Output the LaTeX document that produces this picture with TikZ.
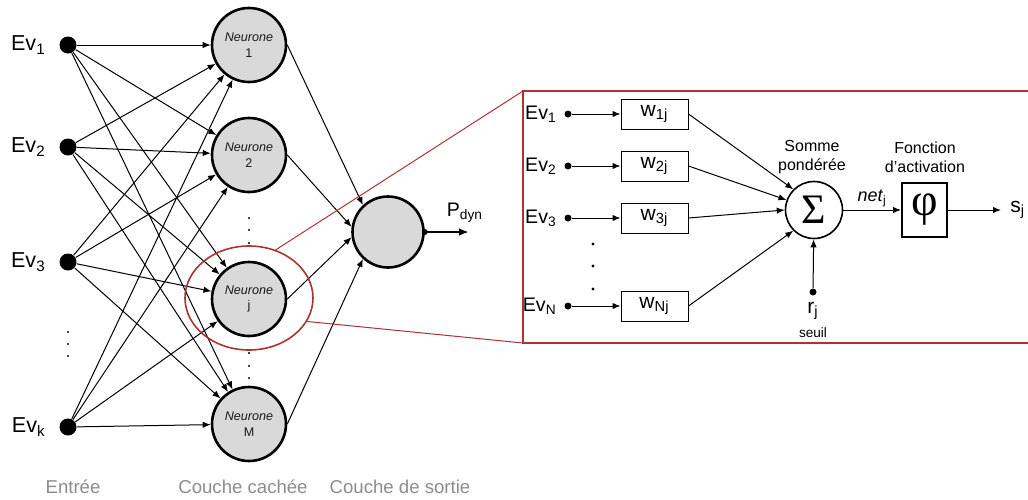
\documentclass[tikz,border=0pt]{standalone}
\usepackage{fontspec}
\setmainfont{Liberation Sans}
\newfontfamily\grfont{Liberation Serif}
\usetikzlibrary{positioning,arrows.meta,shapes.geometric}
\definecolor{zoomred}{RGB}{170,52,52}
\definecolor{cellgray}{RGB}{217,217,217}
\definecolor{capgray}{RGB}{140,140,140}
\newcommand\Ev[1]{Ev\textsubscript{#1}}
\newcommand\fs[1]{\fontsize{#1}{#1}\selectfont}

\begin{document}
\begin{tikzpicture}[x=0.5pt,y=-0.5pt,every node/.style={inner sep=1.5pt},
    link/.style={line width=0.5pt,-{Latex[length=4pt,width=3.2pt]}},
    inp/.style={circle,fill,inner sep=0,minimum size=8.5pt},
    neuron/.style={circle,draw,line width=1.3pt,fill=cellgray,minimum size=37pt,
      inner sep=0,align=center,text=black!90,font=\fontsize{6.3}{7.8}\selectfont},
    wbox/.style={draw,line width=0.5pt,minimum width=33.5pt,minimum height=15pt,
      inner sep=0,font=\fs{10.5}},
    dot/.style={circle,fill,inner sep=0,minimum size=3.5pt}]
  \useasboundingbox(0,0)rectangle(1028,499);
  % reseau
  \foreach \n/\y in{1/45,2/147,3/262,k/427}{
    \node[inp](i\n)at(68,\y){};
    \node[left=5pt of i\n,font=\fs{10.8}]{\Ev{\n}};}
  \foreach \n/\y in{1/45,2/155,j/299,M/424}
    \node[neuron](h\n)at(249,\y){\textit{Neurone}\\\n};
  \node[neuron,minimum size=35.5pt](out)at(388,232){};
  \foreach \a in{1,2,3,k}
    \foreach \b in{1,2,j,M}
      \draw[link](i\a)--(h\b);
  \draw[link](h1.east)--(out.133);
  \draw[link](h2.east)--(out.172);
  \draw[link](hj.east)--(out.188);
  \draw[link](hM.east)--(out.227);
  \fill(out.east)circle(1.5pt);
  \draw[line width=1pt,-{Latex[length=5pt,width=4pt]}](out.east)--++(44,0);
  \node[font=\fs{9.8}](pdyn)at(465,213){P\textsubscript{dyn}};
  \foreach \x/\y in{68/332,68/344,68/356,249/218,249/230,249/243,249/353,249/366,249/378}
    \fill(\x,\y)circle(0.6pt);
  \foreach \x/\t in{73/Entrée,243/Couche cachée,400/Couche de sortie}
    \node[text=capgray,font=\fs{9.3}]at(\x,487){\t};
  % zoom sur le neurone j
  \node[ellipse,draw=zoomred,line width=0.8pt,minimum width=64pt,minimum height=52pt](zoom)at(249,298){};
  \coordinate(c1)at(523,91);
  \coordinate(c2)at(523,343);
  \draw[zoomred,line width=0.5pt](zoom.61)--(c1)(zoom.-22)--(c2);
  \draw[zoomred,line width=0.6pt](1030,91)--(c1)--(c2)--(1030,343);
  \foreach \n/\y in{1/114,2/166,3/218,N/306}{
    \node[dot](e\n)at(568,\y){};
    \node[left=2pt of e\n,font=\fs{9.8}]{\Ev{\n}};
    \node[wbox](w\n)at(654.5,\y){w\textsubscript{\n j}};
    \draw[link](e\n)--(w\n);}
  \foreach \y in{244,266,289}
    \fill(593,\y)circle(0.8pt);
  \node[circle,draw,line width=0.8pt,minimum size=28.5pt,inner sep=0](sum)at(814,210){\grfont\fs{21}Σ};
  \draw[link](w1.east)--(sum.135);
  \draw[link](w2.east)--(sum.160);
  \draw[link](w3.east)--(sum.180);
  \draw[link](wN.east)--(sum.225);
  \node[align=center,font=\fontsize{8}{9.5}\selectfont](somme)at(812,157){Somme\\pondérée};
  \node[draw,line width=1pt,minimum width=22.5pt,minimum height=27pt,inner sep=0](phi)at(924.5,210){\grfont\fs{23}φ};
  \node[align=center,font=\fontsize{8}{9.5}\selectfont](fonct)at(925,157){Fonction\\d’activation};
  \draw[link](sum)--node[above,font=\fs{9}]{\textit{net}\textsubscript{j}}(phi);
  \node[anchor=west,inner xsep=4.5pt,font=\fs{10.5}](sj)at(1001,210){s\textsubscript{j}};
  \draw[link](phi)--(sj);
  \node[dot](rj)at(813,292){};
  \draw[link](rj)--(sum);
  \node[below=1.5pt of rj,font=\fs{10.5}](rl){r\textsubscript{j}};
  \node[below=0.5pt of rl,font=\fs{6.8}]{seuil};
\end{tikzpicture}
\end{document}
